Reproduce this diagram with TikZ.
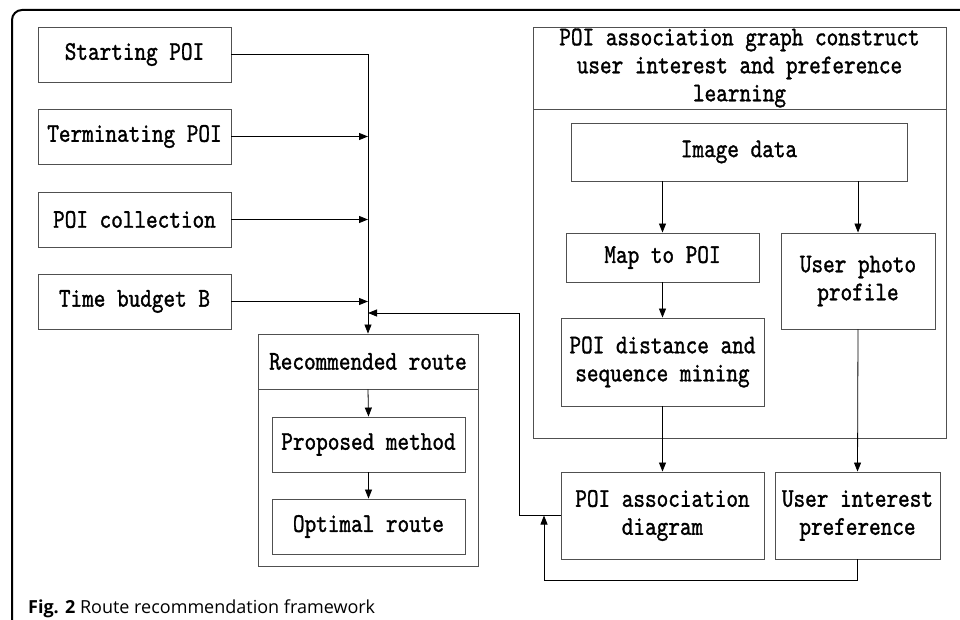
\documentclass[tikz,border=0pt]{standalone}
\usepackage{fontspec}
\newfontfamily\boxfont{lmmono10-regular.otf}[FakeStretch=0.82,FakeBold=1.2]
\newfontfamily\capfont{Open Sans}
\usetikzlibrary{arrows.meta}
\definecolor{boxline}{HTML}{505050}
\begin{document}
\begin{tikzpicture}[x=1pt,y=-1pt,
  box/.style={draw=boxline,line width=0.9pt,inner sep=0pt,align=center,
    font=\boxfont\fontsize{27}{28}\selectfont},
  frame/.style={draw=boxline,line width=0.9pt,inner sep=0pt},
  conn/.style={draw=black,line width=0.8pt},
  arr/.style={conn,-{Triangle[length=9pt,width=7pt]}}]
\useasboundingbox (0,0) rectangle (960,620);
\draw[line width=2pt,rounded corners=10pt] (12,620) -- (12,10) -- (960,10);
% left inputs
\node[box,minimum width=193pt,minimum height=55pt] (start) at (134.5,54.5) {Starting POI};
\node[box,minimum width=193pt,minimum height=55pt] (term) at (134.5,136.5) {Terminating POI};
\node[box,minimum width=193pt,minimum height=55pt] (coll) at (134.5,219.5) {POI collection};
\node[box,minimum width=193pt,minimum height=55pt] (time) at (134.5,301.5) {Time budget B};
% recommended route group
\node[frame,minimum width=220pt,minimum height=232pt] (recgrp) at (368,450) {};
\node[box,minimum width=220pt,minimum height=55pt] (rec) at (368,361.5) {Recommended route};
\node[box,minimum width=193pt,minimum height=55pt] (prop) at (368.5,444.5) {Proposed method};
\node[box,minimum width=193pt,minimum height=55pt] (opt) at (368.5,526.5) {Optimal route};
% right group
\node[frame,minimum width=413pt,minimum height=411pt] (rgrp) at (739.5,232.5) {};
\node[box,minimum width=413pt,minimum height=82pt] (rhead) at (739.5,68) {POI association graph construct\\user interest and preference\\learning};
\node[box,minimum width=336pt,minimum height=58pt] (img) at (739,152) {Image data};
\node[box,minimum width=193pt,minimum height=49pt] (map) at (662.5,257.5) {Map to POI};
\node[box,minimum width=154pt,minimum height=96pt] (upp) at (858,281) {User photo\\profile};
\node[box,minimum width=203pt,minimum height=88pt] (pdist) at (662.5,362) {POI distance and\\sequence mining};
\node[box,minimum width=203pt,minimum height=87pt] (pad) at (662.5,515.5) {POI association\\diagram};
\node[box,minimum width=165pt,minimum height=87pt] (uip) at (857.5,515.5) {User interest\\preference};
% helper coordinates
\coordinate (fbcorner) at (519,313);
\coordinate (merge) at (368,313);
\coordinate (joint) at (544,515.5);
% connectors
\draw[arr] (start.east) -| (rec.north);
\draw[arr] (term.east) -- (term.east -| rec.north);
\draw[arr] (coll.east) -- (coll.east -| rec.north);
\draw[arr] (time.east) -- (time.east -| rec.north);
\draw[arr] (pad.west) -| (fbcorner) -- (merge);
\draw[arr] (uip.south) -- ++(0,21) -| (joint);
\draw[arr] (rec.south) -- (prop.north);
\draw[arr] (prop.south) -- (opt.north);
\draw[arr] (map.north |- img.south) -- (map.north);
\draw[arr] (upp.north |- img.south) -- (upp.north);
\draw[arr] (map.south) -- (pdist.north);
\draw[arr] (pdist.south) -- (pad.north);
\draw[arr] (upp.south) -- (uip.north);
% caption
\node[anchor=base west,inner sep=0pt,font=\capfont\fontsize{18}{21}\selectfont] (cap) at (28,613) {\textbf{Fig. 2} Route recommendation framework};
\end{tikzpicture}
\end{document}
